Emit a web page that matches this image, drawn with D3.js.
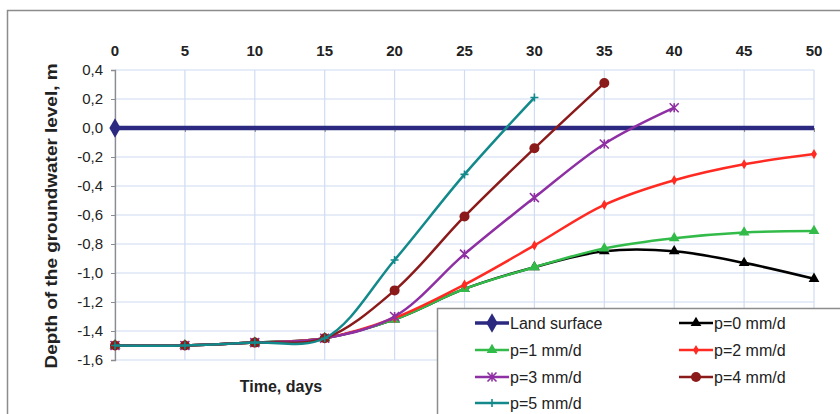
<!DOCTYPE html>
<html>
<head>
<meta charset="utf-8">
<script src="https://cdn.jsdelivr.net/npm/d3@7"></script>
<style>
  html, body { margin: 0; padding: 0; background: #fff; }
  svg { display: block; font-family: "Liberation Sans", Arial, sans-serif; }
</style>
</head>
<body>
<svg id="chart" width="840" height="414"></svg>
<script>
// Time axis (days) and groundwater depth series (m) for rainfall rates p
const days = [0, 5, 10, 15, 20, 25, 30, 35, 40, 45, 50];
const landDays = [0, 50];
const landSurface = [0, 0];
const p0 = [-1.50, -1.50, -1.48, -1.45, -1.32, -1.11, -0.96, -0.85, -0.85, -0.93, -1.04];
const p1 = [-1.50, -1.50, -1.48, -1.45, -1.32, -1.11, -0.96, -0.83, -0.76, -0.72, -0.71];
const p2 = [-1.50, -1.50, -1.48, -1.45, -1.31, -1.08, -0.81, -0.53, -0.36, -0.25, -0.18];
const p3 = [-1.50, -1.50, -1.48, -1.45, -1.30, -0.87, -0.48, -0.11, 0.14];
const p4 = [-1.50, -1.50, -1.48, -1.45, -1.12, -0.61, -0.14, 0.31];
const p5 = [-1.50, -1.50, -1.48, -1.45, -0.91, -0.32, 0.21];

const xTicks = [0, 5, 10, 15, 20, 25, 30, 35, 40, 45, 50];
const yTicks = [0.4, 0.2, 0.0, -0.2, -0.4, -0.6, -0.8, -1.0, -1.2, -1.4, -1.6];

const seriesNames = ["Land surface", "p=0 mm/d", "p=1 mm/d", "p=2 mm/d", "p=3 mm/d", "p=4 mm/d", "p=5 mm/d"];
const seriesColors = ["#2b2a80", "#000000", "#33bb4a", "#ff2a22", "#8e2fa3", "#8b1a1a", "#12898a"];
const seriesMarkers = ["diamond", "triangle", "triangle", "smalldiamond", "star", "circle", "cross"];

const series = [
  { name: seriesNames[0], x: landDays, y: landSurface, color: seriesColors[0], marker: seriesMarkers[0], width: 4.5, markFirstOnly: true },
  { name: seriesNames[1], x: days, y: p0, color: seriesColors[1], marker: seriesMarkers[1], width: 2.5 },
  { name: seriesNames[2], x: days, y: p1, color: seriesColors[2], marker: seriesMarkers[2], width: 2.5 },
  { name: seriesNames[3], x: days, y: p2, color: seriesColors[3], marker: seriesMarkers[3], width: 2.5 },
  { name: seriesNames[4], x: days, y: p3, color: seriesColors[4], marker: seriesMarkers[4], width: 2.5 },
  { name: seriesNames[5], x: days, y: p4, color: seriesColors[5], marker: seriesMarkers[5], width: 2.5 },
  { name: seriesNames[6], x: days, y: p5, color: seriesColors[6], marker: seriesMarkers[6], width: 2.5 }
];

const svg = d3.select("#chart");

// outer chart frame
svg.append("rect")
  .attr("x", 7.5).attr("y", 10.5)
  .attr("width", 900).attr("height", 500)
  .attr("fill", "#fff").attr("stroke", "#8c8c8c").attr("stroke-width", 1.5);

const plot = { left: 115, right: 814, top: 70, bottom: 360 };
const x = d3.scaleLinear().domain([0, 50]).range([plot.left, plot.right]);
const y = d3.scaleLinear().domain([-1.6, 0.4]).range([plot.bottom, plot.top]);

// grid
const grid = svg.append("g");
grid.selectAll("line.v").data(xTicks).join("line").attr("class", "v")
  .attr("x1", d => x(d)).attr("x2", d => x(d))
  .attr("y1", plot.top).attr("y2", plot.bottom)
  .attr("stroke", "#cfdcf2").attr("stroke-width", 1.2);
grid.selectAll("line.h").data(yTicks).join("line").attr("class", "h")
  .attr("x1", plot.left).attr("x2", plot.right)
  .attr("y1", d => y(d)).attr("y2", d => y(d))
  .attr("stroke", "#cfdcf2").attr("stroke-width", 1.2);

// y axis on the left
const yAxis = d3.axisLeft(y).tickValues(yTicks).tickSize(4).tickPadding(8)
  .tickFormat(d => d3.format(".1f")(d).replace(".", ",").replace("−", "-"));
const gy = svg.append("g").attr("transform", `translate(${plot.left},0)`).call(yAxis);
gy.select(".domain").attr("stroke", "#8c8c8c").attr("stroke-width", 1.3);
gy.selectAll(".tick line").attr("stroke", "#8c8c8c");
gy.selectAll(".tick text").attr("font-size", 15).attr("fill", "#222")
  .attr("font-family", "Liberation Sans, Arial, sans-serif");

// x axis crossing at zero, labels placed above the plot
const xAxis = d3.axisBottom(x).tickValues(xTicks).tickSize(4).tickFormat("");
const gx = svg.append("g").attr("transform", `translate(0,${y(0)})`).call(xAxis);
gx.select(".domain").attr("stroke", "#8c8c8c");
gx.selectAll(".tick line").attr("stroke", "#8c8c8c");

svg.append("g").selectAll("text").data(xTicks).join("text")
  .attr("x", d => x(d)).attr("y", 56)
  .attr("text-anchor", "middle")
  .attr("font-size", 15).attr("font-weight", "bold").attr("fill", "#222")
  .text(d => d);

// axis titles
svg.append("text")
  .attr("transform", "translate(57,216) rotate(-90)")
  .attr("text-anchor", "middle")
  .attr("font-size", 17).attr("font-weight", "bold").attr("fill", "#222")
  .attr("textLength", 305).attr("lengthAdjust", "spacingAndGlyphs")
  .text("Depth of the groundwater level, m");

svg.append("text")
  .attr("x", 281).attr("y", 392)
  .attr("text-anchor", "middle")
  .attr("font-size", 16).attr("font-weight", "bold").attr("fill", "#222")
  .text("Time, days");

// marker shapes
function drawMarker(g, type, cx, cy, color) {
  if (type === "diamond") {
    g.append("path").attr("d", d3.symbol(d3.symbolDiamond, 110)())
      .attr("transform", `translate(${cx},${cy})`).attr("fill", color);
  } else if (type === "smalldiamond") {
    g.append("path").attr("d", d3.symbol(d3.symbolDiamond, 30)())
      .attr("transform", `translate(${cx},${cy})`).attr("fill", color);
  } else if (type === "triangle") {
    g.append("path").attr("d", d3.symbol(d3.symbolTriangle, 50)())
      .attr("transform", `translate(${cx},${cy})`).attr("fill", color);
  } else if (type === "circle") {
    g.append("circle").attr("cx", cx).attr("cy", cy).attr("r", 5).attr("fill", color);
  } else if (type === "star") {
    const s = 4.5;
    g.append("path")
      .attr("d", `M${-s},${-s}L${s},${s}M${-s},${s}L${s},${-s}M0,${-s}L0,${s}`)
      .attr("transform", `translate(${cx},${cy})`)
      .attr("stroke", color).attr("stroke-width", 1.6).attr("fill", "none");
  } else if (type === "cross") {
    const s = 4;
    g.append("path")
      .attr("d", `M${-s},0L${s},0M0,${-s}L0,${s}`)
      .attr("transform", `translate(${cx},${cy})`)
      .attr("stroke", color).attr("stroke-width", 1.6).attr("fill", "none");
  }
}

const line = d3.line().curve(d3.curveCatmullRom.alpha(0.5));

// series, drawn in legend order so later rates sit on top
const gs = svg.append("g");
series.forEach(s => {
  const pts = s.y.map((v, i) => [x(s.x[i]), y(v)]);
  gs.append("path").attr("d", line(pts))
    .attr("fill", "none").attr("stroke", s.color)
    .attr("stroke-width", s.width).attr("stroke-linejoin", "round");
  const mg = gs.append("g");
  (s.markFirstOnly ? pts.slice(0, 1) : pts).forEach(p => drawMarker(mg, s.marker, p[0], p[1], s.color));
});

// legend
const lg = svg.append("g");
lg.append("rect")
  .attr("x", 437.5).attr("y", 308.5)
  .attr("width", 500).attr("height", 200)
  .attr("fill", "#fff").attr("stroke", "#8c8c8c").attr("stroke-width", 1.5);

const legendCols = [475, 679];
const legendRows = [323, 350, 377, 403];
series.forEach((s, i) => {
  const cx = legendCols[i % 2];
  const cy = legendRows[Math.floor(i / 2)];
  lg.append("line")
    .attr("x1", cx).attr("x2", cx + 34).attr("y1", cy).attr("y2", cy)
    .attr("stroke", s.color).attr("stroke-width", s.width === 4.5 ? 3.5 : 2.5);
  drawMarker(lg, s.marker, cx + 17, cy, s.color);
  lg.append("text")
    .attr("x", cx + 35).attr("y", cy + 5.5)
    .attr("font-size", 16).attr("fill", "#222")
    .text(s.name);
});
</script>
</body>
</html>
